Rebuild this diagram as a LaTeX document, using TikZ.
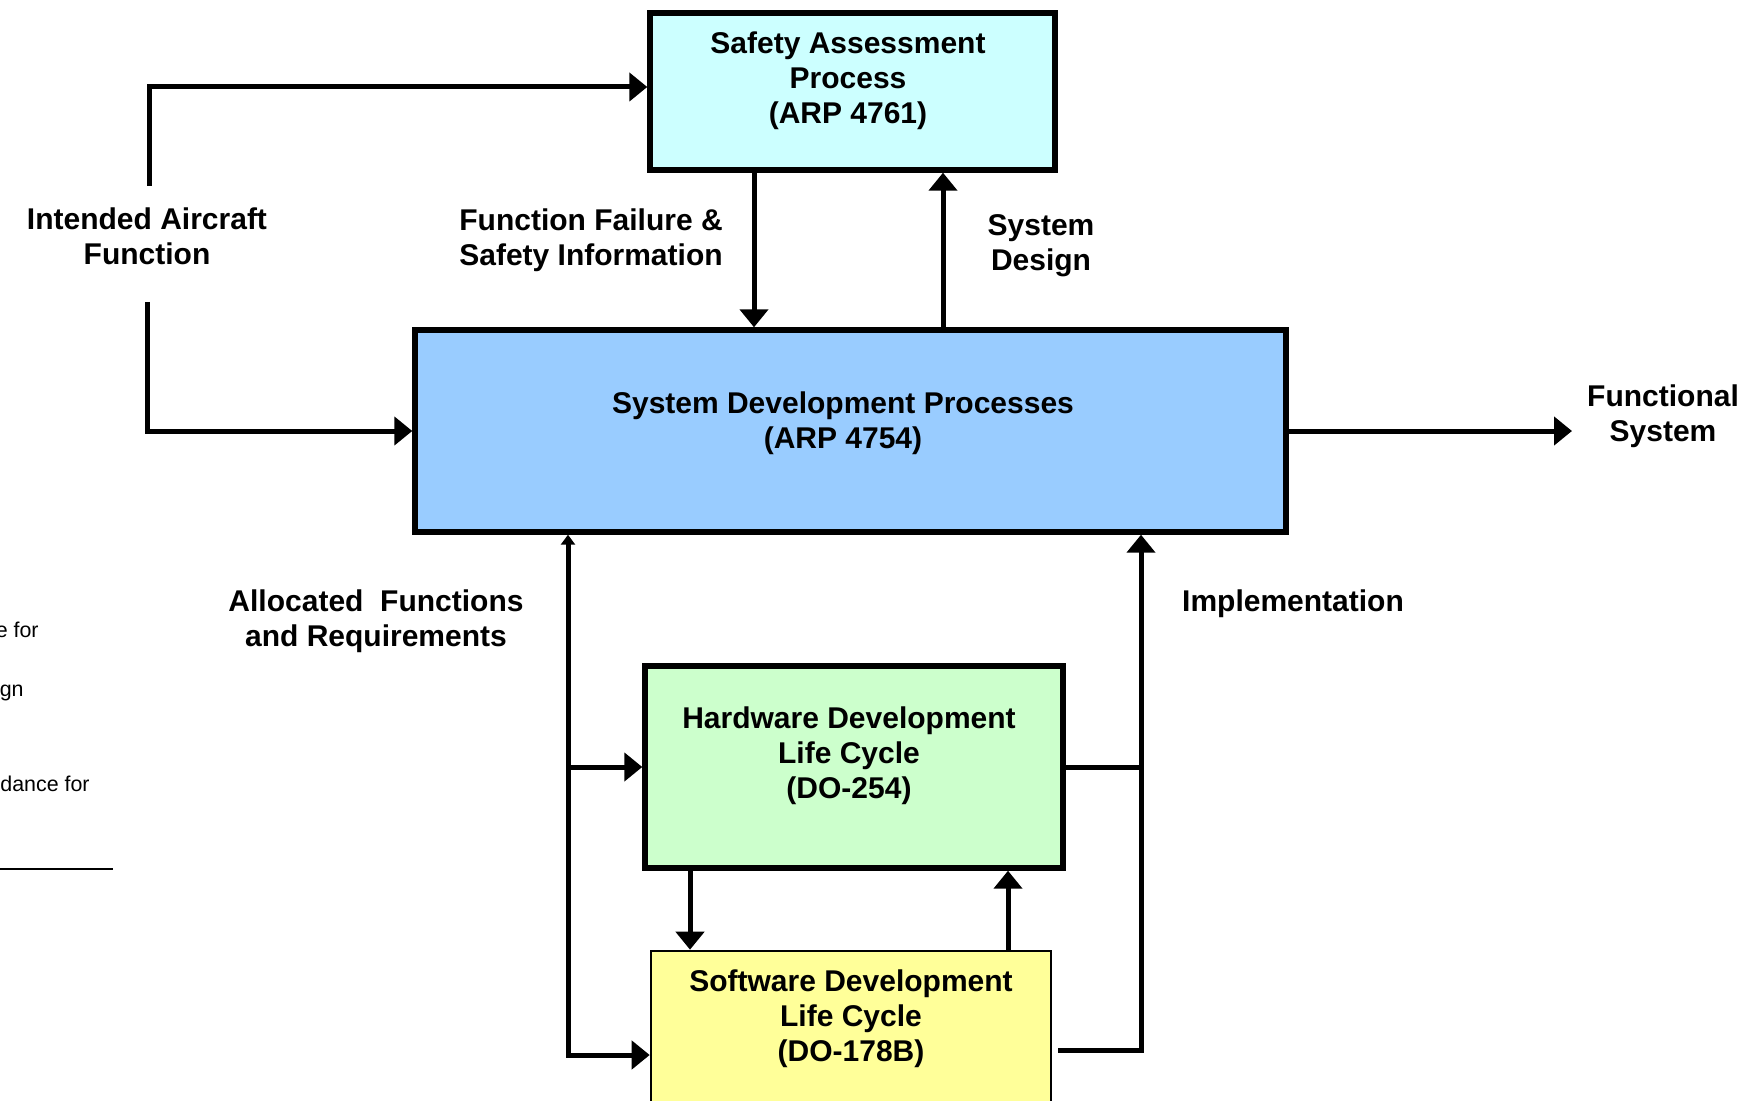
\documentclass[tikz,border=0pt]{standalone}
\usepackage{fontspec}
\setmainfont{Liberation Sans}
\usetikzlibrary{arrows.meta}
\definecolor{sapfill}{HTML}{CCFFFF}
\definecolor{sysfill}{HTML}{99CCFF}
\definecolor{hwfill}{HTML}{CCFFCC}
\definecolor{swfill}{HTML}{FFFF99}
\tikzset{
  procbox/.style={draw=black, line width=2.7pt, rectangle, inner sep=0pt},
  lbl/.style={font=\fontsize{15pt}{17.6pt}\selectfont\bfseries, align=center, inner sep=0pt},
  note/.style={font=\fontsize{10.7pt}{13pt}\selectfont, inner sep=0pt, anchor=east},
  ln/.style={line width=2.5pt},
  arr/.style={ln, -{Triangle[length=9pt,width=14pt]}}
}
\begin{document}
\begin{tikzpicture}[x=0.5pt, y=-0.5pt]
\useasboundingbox (0,0) rectangle (1754,1101);
\clip (0,0) rectangle (1754,1101);

% process boxes
\node[procbox, fill=sapfill, minimum width=202.5pt, minimum height=78.5pt] (sap) at (852.5,91.5) {};
\node[procbox, fill=sysfill, minimum width=435.5pt, minimum height=101pt] (sys) at (850.5,431) {};
\node[procbox, fill=hwfill, minimum width=209pt, minimum height=101pt] (hw) at (854,767) {};
\node[procbox, fill=swfill, line width=1.3pt, minimum width=200pt, minimum height=89.5pt] (sw) at (851,1040.5) {};

% box texts
\node[lbl] (saptxt) at (848,80.5) {Safety Assessment\\Process\\(ARP 4761)};
\node[lbl] (systxt) at (843,423.5) {System Development Processes\\(ARP 4754)};
\node[lbl] (hwtxt) at (849,756) {Hardware Development\\Life Cycle\\(DO-254)};
\node[lbl] (swtxt) at (851,1018.5) {Software Development\\Life Cycle\\(DO-178B)};

% flow labels
\node[lbl] (iaf) at (147,236.5) {Intended Aircraft\\Function};
\node[lbl] (ffsi) at (591,240.5) {Function Failure \&\\Safety Information};
\node[lbl] (sd) at (1041,246) {System\\Design};
\node[lbl] (fs) at (1663,416.5) {Functional\\System};
\node[lbl] (afr) at (376,621.5) {Allocated\ \ Functions\\and Requirements};
\node[lbl] (impl) at (1293,603.5) {Implementation};

% text running in from the left edge
\node[note] (n1) at (39,630) {e for};
\node[note] (n2) at (24,693) {gn};
\node[note] (n3) at (90,784) {dance for};
\coordinate (rule0) at (0,869);
\coordinate (rule1) at (113,869);
\draw[line width=1.1pt] (rule0) -- (rule1);

% connector points
\coordinate (iafTop) at (149,186);
\coordinate (iafTurn) at (149,87);
\coordinate (iafBot) at (147,302);
\coordinate (ffx) at (754,0);
\coordinate (sdx) at (943,0);
\coordinate (fsEnd) at (1572,431);
\coordinate (afrB) at (568,1055);
\coordinate (swR) at (1058,1050);
\coordinate (implB) at (1141,1050);
\coordinate (hsx) at (690,0);
\coordinate (shx) at (1008,0);

% connectors
\draw[arr] (iafTop) -- (iafTurn) -- (iafTurn -| sap.west);
\draw[arr] (iafBot) |- (sys.west);
\draw[arr] (sap.south -| ffx) -- (sys.north -| ffx);
\draw[arr] (sys.north -| sdx) -- (sap.south -| sdx);
\draw[arr] (sys.east) -- (fsEnd);
\draw[ln, {Triangle[length=5pt,width=7pt]}-{Triangle[length=9pt,width=14pt]}] (afrB |- sys.south) -- (afrB) -- (afrB -| sw.west);
\draw[arr] (afrB |- hw.west) -- (hw.west);
\draw[arr] (swR) -- (implB) -- (implB |- sys.south);
\draw[ln] (hw.east) -- (hw.east -| implB);
\draw[arr] (hw.south -| hsx) -- (sw.north -| hsx);
\draw[arr] (sw.north -| shx) -- (hw.south -| shx);
\end{tikzpicture}
\end{document}
